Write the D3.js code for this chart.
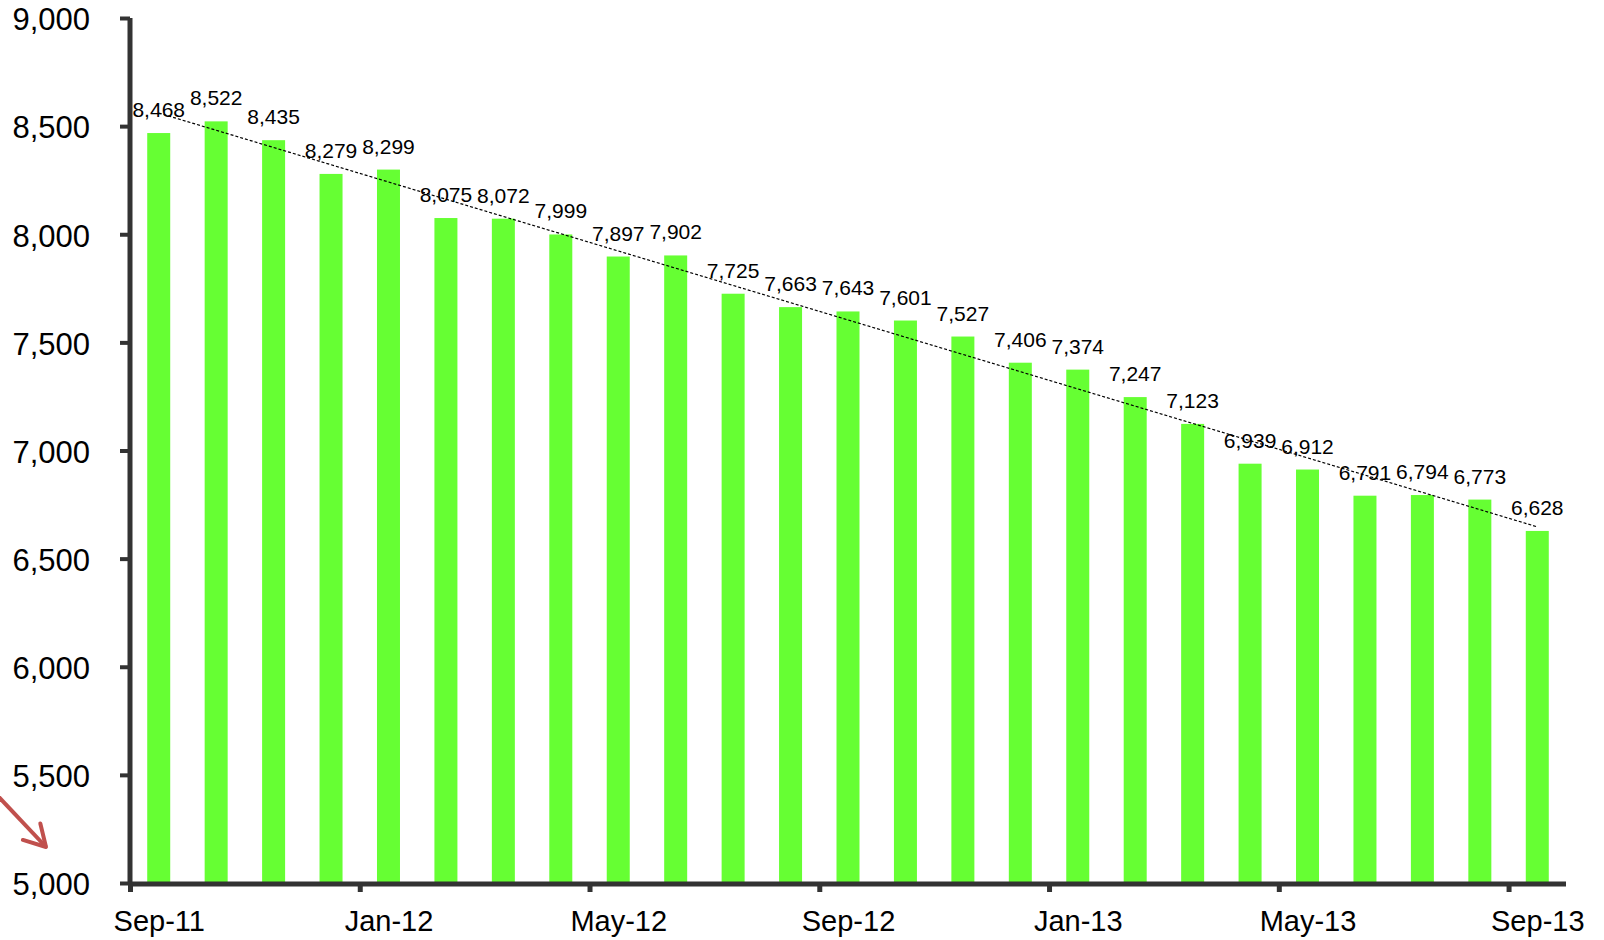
<!DOCTYPE html>
<html>
<head>
<meta charset="utf-8">
<script src="https://cdn.jsdelivr.net/npm/d3@7"></script>
<style>
  body { margin: 0; background: #fff; }
  svg { display: block; font-family: "Liberation Sans", Arial, sans-serif; }
</style>
</head>
<body>
<div id="chart"></div>
<script>
// monthly values, Sep-11 .. Sep-13
const months = ["Sep-11","Oct-11","Nov-11","Dec-11","Jan-12","Feb-12","Mar-12","Apr-12","May-12",
    "Jun-12","Jul-12","Aug-12","Sep-12","Oct-12","Nov-12","Dec-12","Jan-13","Feb-13","Mar-13",
    "Apr-13","May-13","Jun-13","Jul-13","Aug-13","Sep-13"];
const values = [8468, 8522, 8435, 8279, 8299, 8075, 8072, 7999, 7897, 7902, 7725, 7663, 7643,
    7601, 7527, 7406, 7374, 7247, 7123, 6939, 6912, 6791, 6794, 6773, 6628];
const xTickLabels = ["Sep-11", "Jan-12", "May-12", "Sep-12", "Jan-13", "May-13", "Sep-13"];
const yTicks = [5000, 5500, 6000, 6500, 7000, 7500, 8000, 8500, 9000];

const data = months.map((m, i) => ({ month: m, idx: i, value: values[i] }));

const width = 1604;
const height = 940;
const margin = { top: 18, right: 38, bottom: 57, left: 130 };
const innerWidth = width - margin.left - margin.right;
const innerHeight = height - margin.top - margin.bottom;

const svg = d3.select("#chart")
    .append("svg")
    .attr("width", width)
    .attr("height", height);

const g = svg.append("g")
    .attr("transform", `translate(${margin.left}, ${margin.top})`);

// month index scale, one slot per month, bars sit in the middle of the slot
const xScale = d3.scaleLinear()
    .domain([0, months.length])
    .range([0, innerWidth]);

const yScale = d3.scaleLinear()
    .domain([5000, 9000])
    .range([innerHeight, 0]);

const barWidth = 23;

g.selectAll("rect.bar")
    .data(data)
    .enter()
    .append("rect")
    .attr("class", "bar")
    .attr("x", d => xScale(d.idx + 0.5) - barWidth / 2)
    .attr("y", d => yScale(d.value))
    .attr("width", barWidth)
    .attr("height", d => innerHeight - yScale(d.value))
    .attr("fill", "#66ff33");

// linear trend through the bars
const n = data.length;
const meanX = d3.mean(data, d => d.idx);
const meanY = d3.mean(data, d => d.value);
const slope = d3.sum(data, d => (d.idx - meanX) * (d.value - meanY)) /
    d3.sum(data, d => (d.idx - meanX) * (d.idx - meanX));
const intercept = meanY - slope * meanX;

g.append("line")
    .attr("x1", xScale(0.5))
    .attr("y1", yScale(intercept))
    .attr("x2", xScale(n - 1 + 0.5))
    .attr("y2", yScale(intercept + slope * (n - 1)))
    .attr("stroke", "#000")
    .attr("stroke-width", 1.2)
    .attr("stroke-dasharray", "3,2");

// value labels
g.selectAll("text.value")
    .data(data)
    .enter()
    .append("text")
    .attr("class", "value")
    .attr("x", d => xScale(d.idx + 0.5))
    .attr("y", d => yScale(d.value) - 16)
    .attr("text-anchor", "middle")
    .style("font-size", "21px")
    .style("fill", "#000")
    .text(d => d3.format(",")(d.value));

// y axis
const yAxis = d3.axisLeft(yScale)
    .tickValues(yTicks)
    .tickFormat(d3.format(","))
    .tickSize(10)
    .tickSizeOuter(0)
    .tickPadding(30);

const yAxisG = g.append("g")
    .attr("class", "axis-y")
    .call(yAxis);

yAxisG.select(".domain")
    .attr("stroke", "#333")
    .attr("stroke-width", 5)
    .attr("d", `M0,${innerHeight + 2}V0`);
yAxisG.selectAll(".tick line")
    .attr("stroke", "#333")
    .attr("stroke-width", 4);
yAxisG.selectAll(".tick text")
    .attr("dy", "0.38em")
    .style("font-size", "31px")
    .style("fill", "#000");

// x axis: ticks at month starts, labels centred on that month's bar
const xAxis = d3.axisBottom(xScale)
    .tickValues(d3.range(0, months.length, 4))
    .tickFormat((d, i) => xTickLabels[i])
    .tickSize(8)
    .tickSizeOuter(0)
    .tickPadding(18);

const xAxisG = g.append("g")
    .attr("class", "axis-x")
    .attr("transform", `translate(0, ${innerHeight + 1})`)
    .call(xAxis);

xAxisG.select(".domain")
    .attr("stroke", "#333")
    .attr("stroke-width", 5)
    .attr("d", `M-2,0H${innerWidth}`);
xAxisG.selectAll(".tick line")
    .attr("stroke", "#333")
    .attr("stroke-width", 5);
xAxisG.selectAll(".tick text")
    .attr("x", xScale(0.5) - xScale(0))
    .style("font-size", "29px")
    .style("fill", "#000");

// red arrow annotation at the bottom left
const defs = svg.append("defs");
defs.append("marker")
    .attr("id", "arrowhead")
    .attr("markerUnits", "userSpaceOnUse")
    .attr("viewBox", "0 0 30 30")
    .attr("refX", 26)
    .attr("refY", 15)
    .attr("markerWidth", 30)
    .attr("markerHeight", 30)
    .attr("orient", "auto")
    .append("path")
    .attr("d", "M5,3L26,15L5,27")
    .attr("fill", "none")
    .attr("stroke", "#c0504d")
    .attr("stroke-width", 4)
    .attr("stroke-linecap", "round")
    .attr("stroke-linejoin", "round");

svg.append("line")
    .attr("x1", -4)
    .attr("y1", 794)
    .attr("x2", 46)
    .attr("y2", 847)
    .attr("stroke", "#c0504d")
    .attr("stroke-width", 4)
    .attr("marker-end", "url(#arrowhead)");
</script>
</body>
</html>
